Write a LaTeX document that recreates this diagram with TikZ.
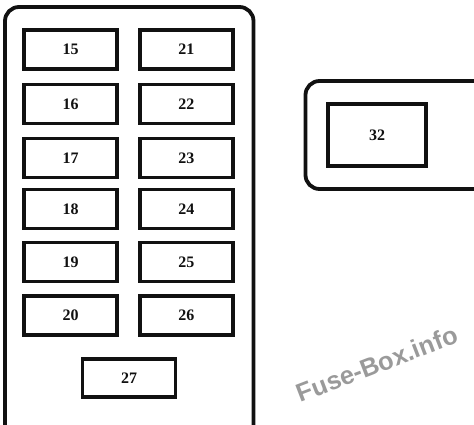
\documentclass[tikz,border=0pt]{standalone}
\usepackage{fontspec}
\setmainfont{Liberation Serif}
\newfontfamily\wmfont{Liberation Sans}
\usetikzlibrary{positioning}
\definecolor{ink}{HTML}{111111}
\definecolor{wmgrey}{HTML}{9A9A9A}
\tikzset{
  housing/.style={draw=ink, line width=3.8pt, rounded corners=14pt},
  fusebox/.style={draw=ink, line width=3.8pt, fill=white, inner sep=0pt,
                  minimum width=93pt, minimum height=39pt,
                  font=\fontsize{16}{16}\selectfont\bfseries, text=ink},
  bigfuse/.style={fusebox, minimum width=98pt, minimum height=62pt},
  wmark/.style={text=wmgrey, font=\wmfont\fontsize{25.5}{25.5}\selectfont\bfseries,
                rotate=21, inner sep=0pt},
}
\begin{document}
\begin{tikzpicture}[x=1pt, y=-1pt]
  \useasboundingbox (0,0) rectangle (474,425);
  \clip (0,0) rectangle (474,425);
  % main fuse panel
  \draw[housing] (5,440) -- (5,7) -- (253.5,7) -- (253.5,440);
  % side block
  \draw[housing] (490,81) -- (305.5,81) -- (305.5,189) -- (490,189);
  % left column
  \node[fusebox] (f15) at (70.5,49.5) {15};
  \node[fusebox] (f16) at (70.5,104)  {16};
  \node[fusebox] (f17) at (70.5,158)  {17};
  \node[fusebox] (f18) at (70.5,209)  {18};
  \node[fusebox] (f19) at (70.5,262)  {19};
  \node[fusebox] (f20) at (70.5,315.5){20};
  % right column
  \node[fusebox] (f21) at (186.3,49.5) {21};
  \node[fusebox] (f22) at (186.3,104)  {22};
  \node[fusebox] (f23) at (186.3,158)  {23};
  \node[fusebox] (f24) at (186.3,209)  {24};
  \node[fusebox] (f25) at (186.3,262)  {25};
  \node[fusebox] (f26) at (186.3,315.5){26};
  \node[fusebox, minimum height=38pt] (f27) at (129,378) {27};
  \node[bigfuse] (f32) at (377,135) {32};
  % watermark
  \node[wmark] (wm) at (377,364) {Fuse-Box.info};
\end{tikzpicture}
\end{document}
